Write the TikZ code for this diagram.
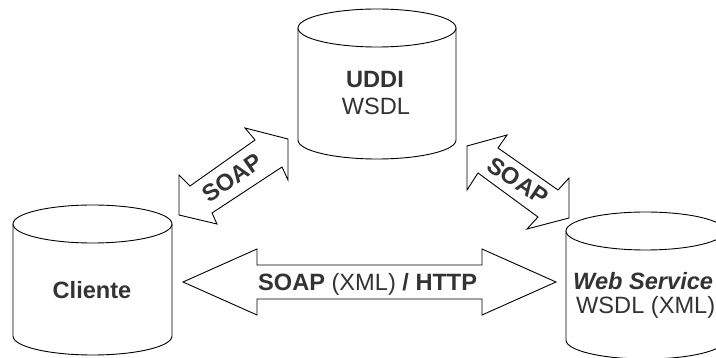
\documentclass[tikz,border=0pt]{standalone}
\usepackage{fontspec}
\setmainfont{Liberation Sans}
\definecolor{labelgray}{HTML}{333333}

% cylinder: left x, right x, centre y of top ellipse, centre y of bottom arc
\newcommand\drum[4]{%
  \pgfmathsetmacro\drumcx{(#1+#2)/2}%
  \pgfmathsetmacro\drumrx{(#2-#1)/2}%
  \draw[drumline] (#1,#3) -- (#1,#4)
    arc[start angle=180, end angle=0, x radius=\drumrx, y radius=19] -- (#2,#3);
  \draw[drumline] (\drumcx,#3) ellipse [x radius=\drumrx, y radius=19];
}

\begin{document}
\begin{tikzpicture}[x=1pt, y=-1pt,
  drumline/.style={draw=black, line width=0.9pt, fill=white},
  blockarrow/.style={draw=black, line width=0.9pt, fill=white, line join=miter},
  lbl/.style={text=labelgray, font=\fontsize{23.6}{28}\selectfont, inner sep=0pt}]
\useasboundingbox (0,0) rectangle (716,358);
\clip (0,0) rectangle (716,358);

% the three stores
\drum{298}{456}{28}{140}
\drum{13}{172}{224}{336}
\drum{566}{725}{231}{340}

% block arrows
\draw[blockarrow] (179,175) -- (190,186) -- (255,140) -- (245,128) -- (288,139)
  -- (288,180) -- (282,167) -- (212,213) -- (217,224) -- (179,215) -- cycle;
\draw[blockarrow] (467,146) -- (507,135) -- (498,148) -- (558,190) -- (569,178)
  -- (569,218) -- (527,229) -- (538,217) -- (478,173) -- (467,190) -- cycle;
\draw[blockarrow] (183,282) -- (257,249) -- (257,265) -- (482,265) -- (482,249)
  -- (556,282) -- (482,315) -- (482,299) -- (257,299) -- (257,315) -- cycle;

% labels
\node[lbl, anchor=base] (uddi) at (375,88) {\bfseries UDDI};
\node[lbl, anchor=base] (uddiwsdl) at (376,115) {WSDL};
\node[lbl, anchor=base] (cliente) at (92,299) {\bfseries Cliente};
\node[lbl, anchor=base west] (ws) at (573,290) {\bfseries\itshape Web Service};
\node[lbl, anchor=base west] (wswsdl) at (576,314) {WSDL (XML)};
\node[lbl, anchor=base west] (http) at (258,291) {\bfseries SOAP \mdseries(XML) \bfseries/ HTTP};
\node[lbl, rotate=35] (soapleft) at (232,178) {\bfseries SOAP};
\node[lbl, rotate=-34] (soapright) at (518,181) {\bfseries SOAP};
\end{tikzpicture}
\end{document}
